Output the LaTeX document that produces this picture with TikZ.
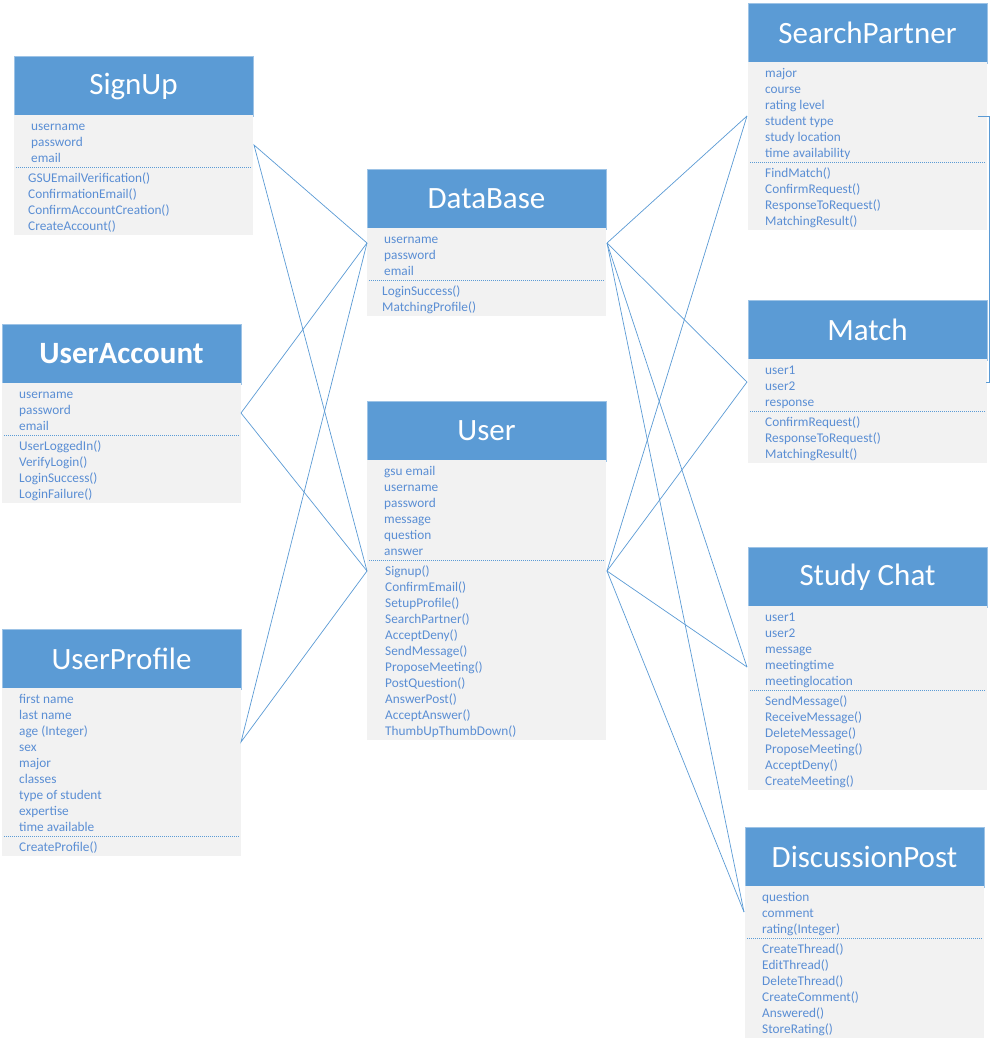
\documentclass[tikz,border=0pt]{standalone}
\usepackage{fontspec}
\setmainfont{Carlito}
\usetikzlibrary{calc}
\definecolor{hdrblue}{HTML}{5B9BD5}
\definecolor{bodygray}{HTML}{F2F2F2}
\definecolor{txtblue}{HTML}{5A8ED4}
\definecolor{lineblue}{HTML}{5B9BD5}
\tikzset{
  hdr/.style={rectangle, fill=hdrblue, draw=hdrblue!60!white, line width=0.6pt, text=white,
    minimum width=239pt, minimum height=60pt, inner sep=0pt, outer sep=0pt,
    font=\fontsize{31}{31}\selectfont},
  bdy/.style={rectangle, fill=bodygray, minimum width=239pt, inner sep=0pt, outer sep=0pt},
  txt/.style={anchor=base west, inner sep=0pt, text=txtblue, font=\fontsize{13.3}{16}\selectfont},
  sep/.style={draw=lineblue, line width=0.7pt, dash pattern=on 1.2pt off 0.8pt},
  conn/.style={draw=lineblue, line width=0.7pt}
}
% #1 id, #2 x, #3 y top, #4 title, #5 n attrs, #6 attrs, #7 n methods, #8 methods, #9 method x offset
\newcommand{\umlbox}[9]{%
  \pgfmathsetmacro{\bh}{16*(#5+#7)+8}%
  \node[hdr, anchor=north west] (#1) at (#2,-#3-1) {#4};
  \node[bdy, minimum height=\bh pt, anchor=north west] (#1-b) at (#2,-#3-60) {};
  \foreach \t [count=\i from 0] in {#6} {
    \node[txt] (#1-a\i) at (#2+17,-#3-60-11-16*\i-4.5) {\t};
  }
  \draw[sep] (#2+2,-#3-60-4-16*#5) -- (#2+237,-#3-60-4-16*#5);
  \foreach \t [count=\i from 0] in {#8} {
    \node[txt] (#1-m\i) at (#2+#9,-#3-60-4-16*#5-10.5-16*\i-4.5) {\t};
  }
}
\begin{document}
\begin{tikzpicture}[x=1pt,y=1pt]
\useasboundingbox[fill=white] (0,0) rectangle (991,-1044);

\umlbox{su}{14}{55}{SignUp}{3}{username,password,email}{4}{GSUEmailVerification(),ConfirmationEmail(),ConfirmAccountCreation(),CreateAccount()}{14}
\umlbox{ua}{2}{323}{\bfseries UserAccount}{3}{username,password,email}{4}{UserLoggedIn(),VerifyLogin(),LoginSuccess(),LoginFailure()}{17}
\umlbox{up}{2}{628}{UserProfile}{9}{first name,last name,age (Integer),sex,major,classes,type of student,expertise,time available}{1}{CreateProfile()}{17}
\umlbox{db}{367}{168}{DataBase}{3}{username,password,email}{2}{LoginSuccess(),MatchingProfile()}{15}
\umlbox{us}{367}{400}{User}{6}{gsu email,username,password,message,question,answer}{11}{Signup(),ConfirmEmail(),SetupProfile(),SearchPartner(),AcceptDeny(),SendMessage(),ProposeMeeting(),PostQuestion(),AnswerPost(),AcceptAnswer(),ThumbUpThumbDown()}{18}
\umlbox{sp}{748}{2}{SearchPartner}{6}{major,course,rating level,student type,study location,time availability}{4}{FindMatch(),ConfirmRequest(),ResponseToRequest(),MatchingResult()}{17}
\umlbox{ma}{748}{299}{Match}{3}{user1,user2,response}{3}{ConfirmRequest(),ResponseToRequest(),MatchingResult()}{17}
\umlbox{sc}{748}{546}{Study Chat}{5}{user1,user2,message,meetingtime,meetinglocation}{6}{SendMessage(),ReceiveMessage(),DeleteMessage(),ProposeMeeting(),AcceptDeny(),CreateMeeting()}{17}
\umlbox{dp}{745}{826}{DiscussionPost}{3}{question,comment,rating(Integer)}{6}{CreateThread(),EditThread(),DeleteThread(),CreateComment(),Answered(),StoreRating()}{17}

% connection points
\coordinate (suR) at ($(su-b.north east)+(1,-30)$);
\coordinate (uaR) at ($(ua-b.north east)+(0,-30)$);
\coordinate (upR) at ($(up-b.north east)+(0,-54)$);
\coordinate (dbL) at ($(db-b.north west)+(0,-15)$);
\coordinate (dbR) at ($(db-b.north east)+(1,-15)$);
\coordinate (usL) at ($(us-b.north west)+(0,-111)$);
\coordinate (usR) at ($(us-b.north east)+(1,-111)$);
\coordinate (spL) at ($(sp-b.north west)+(-1,-54)$);
\coordinate (spR) at ($(sp-b.north east)+(-9,-54)$);
\coordinate (maL) at ($(ma-b.north west)+(-1,-23)$);
\coordinate (maR) at ($(ma-b.north east)+(-1,-23)$);
\coordinate (scL) at ($(sc-b.north west)+(-1,-61)$);
\coordinate (dpL) at ($(dp-b.north west)+(-1,-26)$);

\draw[conn] (dbL) -- (suR) -- (usL);
\draw[conn] (dbL) -- (uaR) -- (usL);
\draw[conn] (dbL) -- (upR) -- (usL);
\draw[conn] (dbR) -- (spL);
\draw[conn] (dbR) -- (maL);
\draw[conn] (dbR) -- (scL);
\draw[conn] (dbR) -- (dpL);
\draw[conn] (usR) -- (spL);
\draw[conn] (usR) -- (maL);
\draw[conn] (usR) -- (scL);
\draw[conn] (usR) -- (dpL);
\draw[conn] (spR) -- ++(11,0) |- (maR);
\end{tikzpicture}
\end{document}
